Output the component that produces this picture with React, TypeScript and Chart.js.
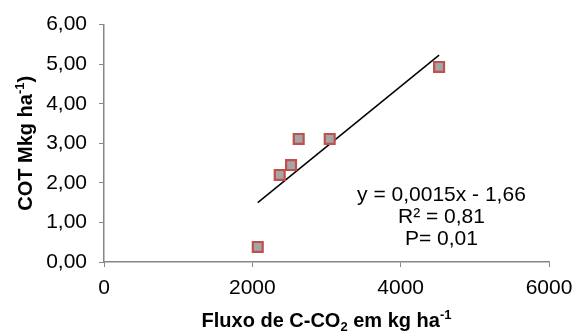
import React, { useEffect, useRef } from "react";
import { Chart, registerables } from "chart.js";

Chart.register(...registerables);

const fluxoX = [2073, 2369, 2522, 2625, 3043, 4518];
const cotY = [0.38, 2.2, 2.45, 3.11, 3.11, 4.93];
const trendX = [2073, 4518];
const trendY = [1.5, 5.23];
const eqLines = ["y = 0,0015x - 1,66", "R² = 0,81", "P= 0,01"];
const yTitleParts = [
  { t: "COT Mkg ha" },
  { t: "-1", sup: true },
  { t: ")" },
];
const xTitleParts = [
  { t: "Fluxo de C-CO" },
  { t: "2", sub: true },
  { t: " em kg ha" },
  { t: "-1", sup: true },
];

const FONT = "'Liberation Sans', Arial, sans-serif";

type Part = { t: string; sub?: boolean; sup?: boolean };

function drawRich(ctx: CanvasRenderingContext2D, parts: Part[], cx: number, cy: number, size: number, small: number) {
  const big = `bold ${size}px ${FONT}`;
  const sm = `bold ${small}px ${FONT}`;
  let total = 0;
  const widths = parts.map((p) => {
    ctx.font = p.sub || p.sup ? sm : big;
    const w = ctx.measureText(p.t).width;
    total += w;
    return w;
  });
  let x = cx - total / 2;
  ctx.textBaseline = "alphabetic";
  ctx.textAlign = "left";
  parts.forEach((p, i) => {
    ctx.font = p.sub || p.sup ? sm : big;
    const dy = p.sup ? -size * 0.38 : p.sub ? size * 0.22 : 0;
    ctx.fillText(p.t, x, cy + dy);
    x += widths[i];
  });
}

const textPlugin = {
  id: "textPlugin",
  afterDraw(chart: any) {
    const ctx = chart.ctx as CanvasRenderingContext2D;
    const xs = chart.scales.x;
    const ys = chart.scales.y;
    ctx.save();
    ctx.fillStyle = "#000";
    ctx.font = `21px ${FONT}`;
    ctx.textAlign = "center";
    ctx.textBaseline = "alphabetic";
    const cx = xs.getPixelForValue(4550);
    const y0 = ys.getPixelForValue(1.54);
    eqLines.forEach((l, i) => ctx.fillText(l, cx, y0 + i * 22));
    drawRich(ctx, xTitleParts, (chart.chartArea.left + chart.chartArea.right) / 2, 327, 20, 13);
    ctx.save();
    ctx.translate(32, (chart.chartArea.top + chart.chartArea.bottom) / 2);
    ctx.rotate(-Math.PI / 2);
    drawRich(ctx, yTitleParts, 0, 0, 20, 13);
    ctx.restore();
    ctx.restore();
  },
};

export default function App() {
  const ref = useRef<HTMLCanvasElement>(null);
  useEffect(() => {
    if (!ref.current) return;
    const axisColor = "#868686";
    const chart = new Chart(ref.current, {
      type: "scatter",
      data: {
        datasets: [
          {
            data: fluxoX.map((x, i) => ({ x, y: cotY[i] })),
            pointStyle: "rect",
            pointRadius: 7,
            backgroundColor: "#a5a5a5",
            borderColor: "#c0504d",
            borderWidth: 2.2,
            showLine: false,
          },
          {
            data: trendX.map((x, i) => ({ x, y: trendY[i] })),
            showLine: true,
            borderColor: "#000",
            borderWidth: 1.5,
            pointRadius: 0,
          },
        ],
      },
      options: {
        animation: false,
        responsive: false,
        devicePixelRatio: 1,
        layout: { padding: { left: 0, top: 21, right: 35, bottom: 0 } },
        plugins: { legend: { display: false }, tooltip: { enabled: false } },
        scales: {
          x: {
            type: "linear",
            min: 0,
            max: 6000,
            afterFit: (s: any) => {
              s.height = 70;
            },
            ticks: {
              stepSize: 2000,
              color: "#000",
              font: { family: FONT, size: 21 },
              padding: 9,
              maxRotation: 0,
              callback: (v: any) => String(v),
            },
            grid: { drawOnChartArea: false, drawTicks: true, tickLength: 5, color: axisColor },
            border: { color: axisColor, width: 1.5 },
          },
          y: {
            type: "linear",
            min: 0,
            max: 6,
            afterFit: (s: any) => {
              s.width = 104;
            },
            ticks: {
              stepSize: 1,
              color: "#000",
              font: { family: FONT, size: 21 },
              padding: 12,
              callback: (v: any) => Number(v).toFixed(2).replace(".", ","),
            },
            grid: { drawOnChartArea: false, drawTicks: true, tickLength: 5, color: axisColor },
            border: { color: axisColor, width: 1.5 },
          },
        },
      },
      plugins: [textPlugin],
    });
    return () => chart.destroy();
  }, []);
  return (
    <div style={{ position: "fixed", left: 0, top: 0, width: 584, height: 332, background: "#fff" }}>
      <canvas ref={ref} width={584} height={332} />
    </div>
  );
}
